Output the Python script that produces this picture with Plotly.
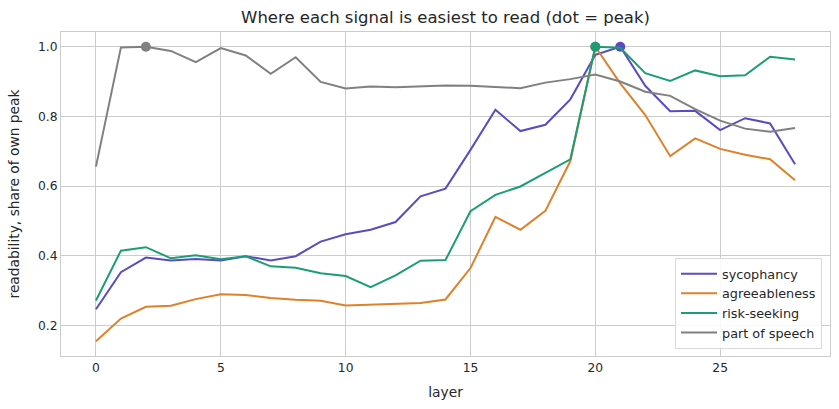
import numpy as np
import plotly.graph_objects as go

layers = list(range(29))

sycophancy = [0.247, 0.353, 0.395, 0.387, 0.391, 0.387, 0.399, 0.387, 0.399, 0.441,
              0.462, 0.475, 0.497, 0.571, 0.593, 0.704, 0.819, 0.758, 0.776, 0.849,
              0.977, 1.000, 0.888, 0.815, 0.816, 0.761, 0.795, 0.780, 0.663]
agreeableness = [0.155, 0.220, 0.254, 0.257, 0.276, 0.290, 0.288, 0.279, 0.274, 0.271,
                 0.258, 0.260, 0.262, 0.265, 0.275, 0.365, 0.512, 0.475, 0.529, 0.672,
                 1.000, 0.895, 0.804, 0.686, 0.737, 0.707, 0.690, 0.677, 0.617]
risk_seeking = [0.272, 0.415, 0.425, 0.393, 0.402, 0.390, 0.399, 0.370, 0.366, 0.350,
                0.342, 0.310, 0.344, 0.386, 0.388, 0.528, 0.575, 0.599, 0.638, 0.677,
                1.000, 0.997, 0.924, 0.902, 0.932, 0.915, 0.918, 0.971, 0.963]
part_of_speech = [0.656, 0.998, 1.000, 0.988, 0.956, 0.996, 0.975, 0.922, 0.970, 0.899,
                  0.880, 0.886, 0.884, 0.886, 0.889, 0.888, 0.884, 0.881, 0.897, 0.907,
                  0.920, 0.900, 0.871, 0.859, 0.821, 0.788, 0.765, 0.756, 0.767]

series_names = ["sycophancy", "agreeableness", "risk-seeking", "part of speech"]
series_values = [sycophancy, agreeableness, risk_seeking, part_of_speech]
series_colors = ["#5a4cc0", "#de8129", "#1b9e77", "#808080"]

x_ticks = [0, 5, 10, 15, 20, 25]
y_ticks = [0.2, 0.4, 0.6, 0.8, 1.0]

FONT = "DejaVu Sans"
TXT = "#262626"
GRID = "#cccccc"

fig = go.Figure()
for name, vals, col in zip(series_names, series_values, series_colors):
    fig.add_trace(go.Scatter(x=layers, y=vals, mode="lines", name=name,
                             line=dict(color=col, width=2)))
    k = int(np.argmax(vals))
    fig.add_trace(go.Scatter(x=[layers[k]], y=[vals[k]], mode="markers",
                             marker=dict(color=col, size=10), showlegend=False,
                             hoverinfo="skip"))

fig.update_layout(
    width=839, height=409,
    margin=dict(l=61, r=9, t=32, b=53, autoexpand=False),
    paper_bgcolor="white", plot_bgcolor="white",
    font=dict(family=FONT, size=12.3, color=TXT),
    title=dict(text="Where each signal is easiest to read (dot = peak)",
               x=0.531, xanchor="center", y=0.958, yanchor="middle",
               font=dict(size=16.5, color=TXT), automargin=False),
    legend=dict(x=0.9896, y=0.022, xanchor="right", yanchor="bottom",
                bgcolor="rgba(255,255,255,0.85)", bordercolor="#d9d9d9", borderwidth=1,
                font=dict(size=12.8, color=TXT), tracegroupgap=0, itemwidth=36),
    showlegend=True,
)
fig.update_xaxes(range=[-1.4, 29.4], tickvals=x_ticks, ticktext=[str(t) for t in x_ticks],
                 showgrid=True, gridcolor=GRID, gridwidth=1, zeroline=False,
                 showline=True, linecolor=GRID, linewidth=1, mirror=True,
                 ticks="", ticklen=0, automargin=False, tickfont=dict(size=12.3),
                 title=dict(text="layer", font=dict(size=13.8, color=TXT), standoff=13))
fig.update_yaxes(range=[0.1128, 1.0422], tickvals=y_ticks, ticktext=[f"{t:.1f}" for t in y_ticks],
                 showgrid=True, gridcolor=GRID, gridwidth=1, zeroline=False,
                 showline=True, linecolor=GRID, linewidth=1, mirror=True,
                 ticks="", ticklen=0, automargin=False, tickfont=dict(size=12.3),
                 title=dict(text="readability, share of own peak", font=dict(size=13.8, color=TXT), standoff=15))

fig.write_html("out.html", config={"displayModeBar": False},
               post_script="document.body.style.margin='0';")
